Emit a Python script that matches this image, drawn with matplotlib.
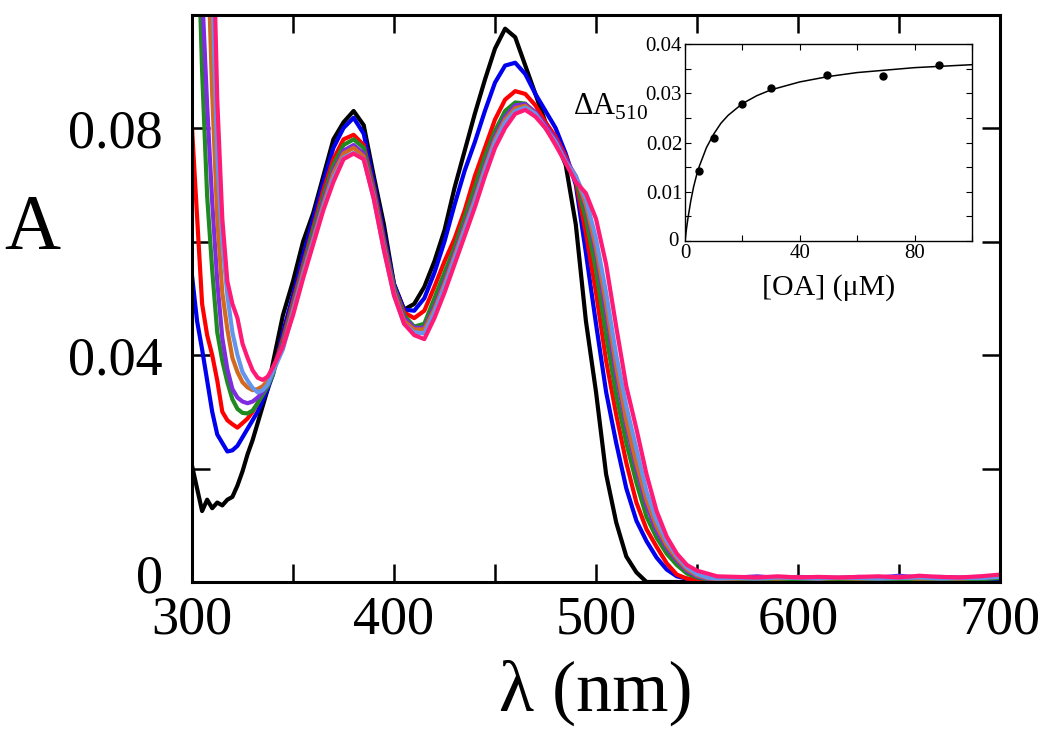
import numpy as np
import matplotlib
matplotlib.use("Agg")
import matplotlib.pyplot as plt
from matplotlib.ticker import MultipleLocator, FuncFormatter
from matplotlib.transforms import ScaledTranslation

plt.rcParams['font.family'] = ['Liberation Serif', 'DejaVu Serif']
plt.rcParams['mathtext.fontset'] = 'custom'
plt.rcParams['mathtext.rm'] = 'Liberation Serif'

# wavelength grid (nm) the spectra were read on
wavelength = ([300, 302.5, 305, 307.5, 310, 312.5, 315, 317.5, 320, 322.5,
               325, 327.5, 330, 332.5, 335, 337.5, 340]
              + list(range(345, 561, 5)) + list(range(570, 701, 10)))

# absorbance spectra, one per titration step
abs_black = [0.0205, 0.0165, 0.0125, 0.0145, 0.0130, 0.0140, 0.0135, 0.0145, 0.0150, 0.0170,
             0.0195, 0.0225, 0.0250, 0.0280, 0.0310, 0.0340, 0.0385,
             0.0470, 0.0530, 0.0600, 0.0650, 0.0715, 0.0780, 0.0810, 0.0830, 0.0805, 0.0715,
             0.0630, 0.0525, 0.0480, 0.0490, 0.0520, 0.0565, 0.0620, 0.0695, 0.0760, 0.0825,
             0.0885, 0.0940, 0.0975, 0.0960, 0.0910, 0.0860, 0.0810, 0.0780, 0.0735, 0.0630,
             0.0460, 0.0335, 0.0190, 0.0105, 0.0045, 0.0017, 0.0, 0.0, 0.0, 0.0,
             0.0, 0.0, 0.0, 0.0,
             0, 0, 0, 0, 0, 0, 0, 0, 0, 0, 0, 0, 0, 0]
abs_blue = [0.0540, 0.0460, 0.0410, 0.0355, 0.0300, 0.0260, 0.0245, 0.0230, 0.0232, 0.0240,
            0.0255, 0.0270, 0.0285, 0.0300, 0.0320, 0.0340, 0.0365,
            0.0440, 0.0505, 0.0575, 0.0640, 0.0705, 0.0765, 0.0800, 0.0818, 0.0790, 0.0705,
            0.0615, 0.0525, 0.0480, 0.0478, 0.0500, 0.0545, 0.0600, 0.0665, 0.0725, 0.0775,
            0.0830, 0.0880, 0.0910, 0.0915, 0.0895, 0.0860, 0.0830, 0.0800, 0.0755, 0.0700,
            0.0580, 0.0455, 0.0335, 0.0245, 0.0165, 0.0108, 0.0072, 0.0043, 0.0022, 0.0010,
            0.0006, 0.0004, 0.0005, 0.0004,
            0.0004, 0.0003, 0.0005, 0.0004, 0.0005, 0.0004, 0.0003, 0.0005, 0.0004, 0.0005,
            0.0004, 0.0005, 0.0004, 0.0006]
abs_red = [0.0800, 0.0645, 0.0490, 0.0435, 0.0400, 0.0355, 0.0300, 0.0285, 0.0278, 0.0272,
           0.0280, 0.0288, 0.0300, 0.0315, 0.0330, 0.0345, 0.0370,
           0.0430, 0.0495, 0.0560, 0.0625, 0.0690, 0.0745, 0.0780, 0.0788, 0.0770, 0.0695,
           0.0605, 0.0520, 0.0475, 0.0465, 0.0478, 0.0520, 0.0565, 0.0605, 0.0655, 0.0715,
           0.0765, 0.0815, 0.0850, 0.0865, 0.0860, 0.0840, 0.0810, 0.0785, 0.0750, 0.0705,
           0.0615, 0.0510, 0.0390, 0.0295, 0.0210, 0.0140, 0.0093, 0.0062, 0.0033, 0.0013,
           0.0006, 0.0004, 0.0005, 0.0004,
           0.0005, 0.0004, 0.0005, 0.0006, 0.0004, 0.0005, 0.0005, 0.0004, 0.0006, 0.0005,
           0.0004, 0.0005, 0.0006, 0.0008]
abs_green = [0.1600, 0.1200, 0.0900, 0.0680, 0.0550, 0.0440, 0.0390, 0.0352, 0.0322, 0.0305,
             0.0298, 0.0297, 0.0302, 0.0315, 0.0330, 0.0345, 0.0365,
             0.0425, 0.0490, 0.0555, 0.0620, 0.0680, 0.0735, 0.0770, 0.0780, 0.0765, 0.0690,
             0.0600, 0.0520, 0.0470, 0.0450, 0.0455, 0.0500, 0.0545, 0.0590, 0.0643, 0.0695,
             0.0750, 0.0795, 0.0830, 0.0845, 0.0843, 0.0825, 0.0800, 0.0775, 0.0745, 0.0710,
             0.0640, 0.0550, 0.0435, 0.0330, 0.0245, 0.0175, 0.0115, 0.0078, 0.0050, 0.0030,
             0.0015, 0.0008, 0.0005, 0.0004,
             0.0005, 0.0006, 0.0004, 0.0005, 0.0006, 0.0005, 0.0004, 0.0006, 0.0005, 0.0005,
             0.0006, 0.0004, 0.0005, 0.0007]
abs_purple = [0.1900, 0.1400, 0.1040, 0.0840, 0.0670, 0.0530, 0.0430, 0.0375, 0.0340, 0.0325,
              0.0318, 0.0315, 0.0318, 0.0325, 0.0335, 0.0350, 0.0370,
              0.0420, 0.0485, 0.0550, 0.0610, 0.0672, 0.0725, 0.0760, 0.0770, 0.0755, 0.0685,
              0.0595, 0.0515, 0.0465, 0.0448, 0.0448, 0.0485, 0.0530, 0.0580, 0.0630, 0.0680,
              0.0735, 0.0785, 0.0820, 0.0840, 0.0842, 0.0828, 0.0805, 0.0780, 0.0745, 0.0715,
              0.0660, 0.0580, 0.0475, 0.0365, 0.0275, 0.0200, 0.0135, 0.0090, 0.0060, 0.0038,
              0.0020, 0.0010, 0.0006, 0.0005,
              0.0008, 0.0010, 0.0007, 0.0009, 0.0008, 0.0007, 0.0009, 0.0008, 0.0011, 0.0008,
              0.0009, 0.0008, 0.0009, 0.0010]
abs_orange = [0.2500, 0.2000, 0.1500, 0.1150, 0.0860, 0.0640, 0.0510, 0.0445, 0.0395, 0.0370,
              0.0352, 0.0343, 0.0338, 0.0340, 0.0345, 0.0355, 0.0375,
              0.0415, 0.0480, 0.0545, 0.0605, 0.0665, 0.0720, 0.0755, 0.0765, 0.0750, 0.0680,
              0.0590, 0.0510, 0.0460, 0.0445, 0.0445, 0.0480, 0.0525, 0.0575, 0.0625, 0.0675,
              0.0730, 0.0780, 0.0815, 0.0835, 0.0839, 0.0825, 0.0800, 0.0775, 0.0740, 0.0715,
              0.0665, 0.0590, 0.0490, 0.0380, 0.0285, 0.0210, 0.0145, 0.0098, 0.0065, 0.0042,
              0.0023, 0.0012, 0.0007, 0.0005,
              0.0006, 0.0007, 0.0006, 0.0008, 0.0006, 0.0007, 0.0006, 0.0007, 0.0008, 0.0006,
              0.0007, 0.0006, 0.0008, 0.0009]
abs_lightblue = [0.2800, 0.2300, 0.1800, 0.1400, 0.1060, 0.0750, 0.0600, 0.0505, 0.0440, 0.0400,
                 0.0370, 0.0355, 0.0342, 0.0334, 0.0338, 0.0348, 0.0370,
                 0.0410, 0.0475, 0.0540, 0.0600, 0.0660, 0.0712, 0.0748, 0.0756, 0.0745, 0.0675,
                 0.0585, 0.0505, 0.0455, 0.0440, 0.0438, 0.0475, 0.0520, 0.0570, 0.0620, 0.0670,
                 0.0725, 0.0775, 0.0810, 0.0830, 0.0836, 0.0825, 0.0800, 0.0775, 0.0740, 0.0715,
                 0.0675, 0.0605, 0.0510, 0.0400, 0.0310, 0.0235, 0.0160, 0.0108, 0.0072, 0.0046,
                 0.0026, 0.0014, 0.0008, 0.0006,
                 0.0007, 0.0006, 0.0008, 0.0007, 0.0006, 0.0008, 0.0007, 0.0006, 0.0007, 0.0008,
                 0.0006, 0.0007, 0.0007, 0.0009]
abs_pink = [0.3000, 0.2500, 0.2000, 0.1600, 0.1220, 0.0850, 0.0640, 0.0530, 0.0490, 0.0465,
            0.0420, 0.0395, 0.0373, 0.0360, 0.0356, 0.0362, 0.0378,
            0.0415, 0.0470, 0.0535, 0.0595, 0.0655, 0.0705, 0.0745, 0.0755, 0.0745, 0.0675,
            0.0585, 0.0505, 0.0455, 0.0435, 0.0428, 0.0465, 0.0510, 0.0560, 0.0610, 0.0660,
            0.0715, 0.0765, 0.0800, 0.0825, 0.0832, 0.0820, 0.0800, 0.0770, 0.0738, 0.0705,
            0.0685, 0.0640, 0.0560, 0.0450, 0.0345, 0.0270, 0.0190, 0.0125, 0.0080, 0.0050,
            0.0030, 0.0020, 0.0015, 0.0010,
            0.0009, 0.0008, 0.0010, 0.0008, 0.0009, 0.0008, 0.0009, 0.0010, 0.0008, 0.0011,
            0.0009, 0.0008, 0.0010, 0.0013]

spectra = [abs_black, abs_blue, abs_red, abs_green, abs_purple, abs_orange, abs_lightblue, abs_pink]
colors = ['black', '#0000ee', '#ff0000', '#1f8a1f', '#7f2be0', '#d2691e', '#6495ed', '#ff1a75']

# inset: titration at 510 nm
oa_conc = [5, 10, 20, 30, 49.5, 69, 88.5]
delta_a510 = [0.0143, 0.0209, 0.0279, 0.0310, 0.0338, 0.0336, 0.0357]
fit_conc = [0, 0.5, 1, 2, 3, 4, 5, 7.5, 10, 12.5, 15, 20, 25, 30, 40, 50, 60, 70, 80, 90, 100]
fit_a510 = [0, 0.0024, 0.0045, 0.0081, 0.0110, 0.0133, 0.0152, 0.0190, 0.0217, 0.0239, 0.0255,
            0.0279, 0.0295, 0.0307, 0.0323, 0.0334, 0.0342, 0.0347, 0.0352, 0.0355, 0.0358]

for s in spectra:
    assert len(s) == len(wavelength), len(s)


def zero_fmt(v, p):
    return '0' if abs(v) < 1e-9 else f'{v:.2f}'


def nudge_zero_label(axis, dx, dy):
    # shift the "0" tick label by (dx, dy) inches
    for tick in axis.get_major_ticks():
        if abs(tick.get_loc()) < 1e-9:
            lab = tick.label1
            lab.set_transform(lab.get_transform() + ScaledTranslation(dx, dy, fig.dpi_scale_trans))


fig = plt.figure(figsize=(10.5, 7.35), dpi=100)
ax = fig.add_axes([192 / 1050, (735 - 582) / 735, 808 / 1050, 567.5 / 735])

for y, c in zip(spectra, colors):
    ax.plot(wavelength, y, color=c, lw=3.0, solid_joinstyle='round')

ax.set_xlim(300, 700)
ax.set_ylim(0, 0.1)
ax.set_xticks([300, 400, 500, 600, 700])
ax.xaxis.set_minor_locator(MultipleLocator(50))
ax.set_yticks([0, 0.04, 0.08])
ax.yaxis.set_minor_locator(MultipleLocator(0.02))
ax.yaxis.set_major_formatter(FuncFormatter(zero_fmt))
ax.tick_params(which='both', direction='in', length=13, width=1.8, top=True, right=True)
ax.tick_params(axis='x', labelsize=39, pad=9)
ax.tick_params(axis='y', labelsize=39, pad=21)
for sp in ax.spines.values():
    sp.set_linewidth(2.2)

ax.set_xlabel('λ (nm)', fontsize=52, va='center')
ax.xaxis.set_label_coords(0.5, -0.196)
ax.set_ylabel('A', fontsize=56, rotation=0, va='center', ha='center')
ax.yaxis.set_label_coords(-0.198, 0.622)

# inset
ax_in = fig.add_axes([685 / 1050, (735 - 241) / 735, 287 / 1050, 197 / 735])
ax_in.plot(fit_conc, fit_a510, color='black', lw=1.1)
ax_in.plot(oa_conc, delta_a510, 'o', color='black', ms=5)
ax_in.set_xlim(0, 100)
ax_in.set_ylim(0, 0.04)
ax_in.set_xticks([0, 40, 80])
ax_in.xaxis.set_minor_locator(MultipleLocator(20))
ax_in.set_yticks([0, 0.01, 0.02, 0.03, 0.04])
ax_in.yaxis.set_minor_locator(MultipleLocator(0.005))
ax_in.yaxis.set_major_formatter(FuncFormatter(zero_fmt))
ax_in.tick_params(which='both', direction='in', length=4.5, width=0.8, top=True, right=True,
                  labelsize=15, pad=2)
for sp in ax_in.spines.values():
    sp.set_linewidth(1.0)
ax_in.set_xlabel('[OA] (μM)', fontsize=21.5, va='center')
ax_in.xaxis.set_label_coords(0.5, -0.234)
ax_in.set_ylabel(r'$\Delta\mathrm{A}_{510}$', fontsize=22, rotation=0, va='center', ha='center')
ax_in.yaxis.set_label_coords(-0.26, 0.68)

fig.canvas.draw()
nudge_zero_label(ax.yaxis, 0, 0.09)
nudge_zero_label(ax_in.yaxis, -0.04, 0.02)

fig.savefig('out.png', dpi=100)
